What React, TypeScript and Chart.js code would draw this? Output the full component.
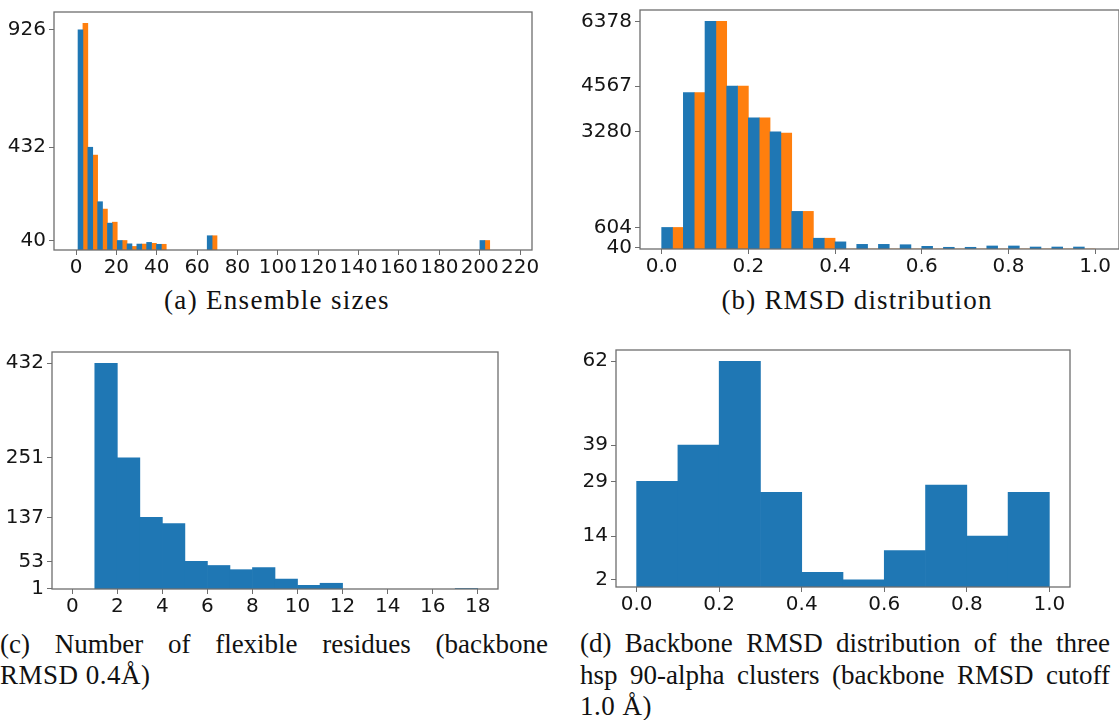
import React, { useEffect, useRef } from 'react';
import { Chart, registerables } from 'chart.js';
Chart.register(...registerables);

// ---------- (a) Ensemble sizes ----------
const aBinLeft = [1, 5.86, 10.71, 15.57, 20.43, 25.29, 30.14, 35.0, 39.86, 65.0, 200.1];
const aBinWidth = 4.857;
const aBlue = [926, 432, 203, 113, 40, 26, 25, 32, 24, 60, 40];
const aOrange = [953, 399, 172, 117, 40, 15, 25, 28, 24, 60, 40];
const aXTicks = [0, 20, 40, 60, 80, 100, 120, 140, 160, 180, 200, 220];
const aYTicks = [40, 432, 926];

// ---------- (b) RMSD distribution ----------
const bBinLeft = [0.0, 0.05, 0.1, 0.15, 0.2, 0.25, 0.3, 0.35, 0.4, 0.45, 0.5, 0.55, 0.6, 0.65, 0.7, 0.75, 0.8, 0.85, 0.9, 0.95];
const bBinWidth = 0.05;
const bBlue = [604, 4380, 6378, 4567, 3677, 3280, 1054, 302, 200, 130, 130, 120, 75, 48, 48, 85, 85, 56, 56, 56];
const bOrange = [604, 4380, 6378, 4567, 3677, 3250, 1054, 302, 0, 0, 0, 0, 0, 0, 0, 0, 0, 0, 0, 0];
const bXTicks = [0, 0.2, 0.4, 0.6, 0.8, 1.0];
const bYTicks = [40, 604, 3280, 4567, 6378];

// ---------- (c) Number of flexible residues ----------
const cBinLeft = [1, 2, 3, 4, 5, 6, 7, 8, 9, 10, 11, 17];
const cBinWidth = 1;
const cCounts = [432, 251, 137, 125, 53, 45, 37, 41, 19, 7, 11, 1];
const cXTicks = [0, 2, 4, 6, 8, 10, 12, 14, 16, 18];
const cYTicks = [1, 53, 137, 251, 432];

// ---------- (d) Backbone RMSD distribution ----------
const dBinLeft = [0.0, 0.1, 0.2, 0.3, 0.4, 0.5, 0.6, 0.7, 0.8, 0.9];
const dBinWidth = 0.1;
const dCounts = [29, 39, 62, 26, 4, 2, 10, 28, 14, 26];
const dXTicks = [0, 0.2, 0.4, 0.6, 0.8, 1.0];
const dYTicks = [2, 14, 29, 39, 62];

const BLUE = '#1f77b4';
const ORANGE = '#ff7f0e';
const AXIS = '#6e6e6e';
const LABEL = '#151515';

const framePlugin = {
  id: 'frame',
  afterDatasetsDraw(chart: any) {
    const { ctx, chartArea: a } = chart;
    ctx.save();
    ctx.strokeStyle = AXIS;
    ctx.lineWidth = 1.3;
    ctx.strokeRect(a.left, a.top, a.right - a.left, a.bottom - a.top);
    ctx.restore();
  },
};

function toPoints(left: number[], width: number, vals: number[]) {
  return left.map((l, i) => ({ x: l + width / 2, y: vals[i] }));
}

type Spec = {
  datasets: { data: { x: number; y: number }[]; color: string }[];
  xMin: number; xMax: number; yMax: number;
  xTicks: number[]; yTicks: number[];
  xDecimals: number;
  fontSize: number;
  padTop: number; padRight: number;
  yAxisW: number; xAxisH: number;
};

function makeConfig(s: Spec): any {
  const font = { family: "'DejaVu Sans'", size: s.fontSize };
  return {
    type: 'bar',
    data: {
      datasets: s.datasets.map((d) => ({
        data: d.data,
        backgroundColor: d.color,
        borderWidth: 0,
        categoryPercentage: 1,
        barPercentage: 1,
      })),
    },
    options: {
      animation: false,
      responsive: false,
      events: [],
      layout: { padding: { top: s.padTop, right: s.padRight, left: 0, bottom: 0 } },
      plugins: { legend: { display: false }, tooltip: { enabled: false }, title: { display: false } },
      scales: {
        x: {
          type: 'linear',
          min: s.xMin,
          max: s.xMax,
          offset: false,
          border: { display: false },
          grid: { display: true, offset: false, drawOnChartArea: false, drawTicks: true, tickLength: 5, color: AXIS, lineWidth: 1 },
          ticks: {
            font, color: LABEL, padding: 1, maxRotation: 0, autoSkip: false,
            callback: (v: number) => v.toFixed(s.xDecimals),
          },
          afterBuildTicks: (sc: any) => { sc.ticks = s.xTicks.map((v) => ({ value: v })); },
          afterFit: (sc: any) => { sc.height = s.xAxisH; sc.paddingLeft = 0; sc.paddingRight = 0; },
        },
        y: {
          type: 'linear',
          min: 0,
          max: s.yMax,
          border: { display: false },
          grid: { display: true, drawOnChartArea: false, drawTicks: true, tickLength: 5, color: AXIS, lineWidth: 1 },
          ticks: { font, color: LABEL, padding: 3, autoSkip: false, callback: (v: number) => String(v) },
          afterBuildTicks: (sc: any) => { sc.ticks = s.yTicks.map((v) => ({ value: v })); },
          afterFit: (sc: any) => { sc.width = s.yAxisW; sc.paddingTop = 0; sc.paddingBottom = 0; },
        },
      },
    },
    plugins: [framePlugin],
  };
}

function ChartBox({ spec, left, top, width, height }: { spec: Spec; left: number; top: number; width: number; height: number }) {
  const ref = useRef<HTMLCanvasElement | null>(null);
  useEffect(() => {
    const chart = new Chart(ref.current as HTMLCanvasElement, makeConfig(spec));
    return () => chart.destroy();
  }, []);
  return (
    <div style={{ position: 'absolute', left, top, width, height }}>
      <canvas ref={ref} width={width} height={height} style={{ width, height, display: 'block' }} />
    </div>
  );
}

const capFont: React.CSSProperties = {
  fontFamily: "'Liberation Serif', serif",
  fontSize: 27,
  lineHeight: '31px',
  color: '#111',
};

function Line({ text, left, top, width, justify, center, spacing }: { text: string; left: number; top: number; width: number; justify?: boolean; center?: boolean; spacing?: number }) {
  return (
    <div
      style={{
        ...capFont,
        position: 'absolute',
        left,
        top,
        width,
        letterSpacing: `${spacing ?? 0}px`,
        textAlign: justify ? 'justify' : center ? 'center' : 'left',
        textAlignLast: justify ? 'justify' : center ? 'center' : 'left',
        whiteSpace: justify ? 'normal' : 'nowrap',
      } as React.CSSProperties}
    >
      {text}
    </div>
  );
}

export default function App() {
  const specA: Spec = {
    datasets: [
      { data: toPoints(aBinLeft, aBinWidth, aBlue), color: BLUE },
      { data: toPoints(aBinLeft, aBinWidth, aOrange), color: ORANGE },
    ],
    xMin: -10.9, xMax: 225.9, yMax: Math.max(...aBlue, ...aOrange) * 1.05,
    xTicks: aXTicks, yTicks: aYTicks, xDecimals: 0, fontSize: 20,
    padTop: 12, padRight: 20, yAxisW: 54, xAxisH: 30,
  };
  const specB: Spec = {
    datasets: [
      { data: toPoints(bBinLeft, bBinWidth, bBlue), color: BLUE },
      { data: toPoints(bBinLeft, bBinWidth, bOrange), color: ORANGE },
    ],
    xMin: -0.05, xMax: 1.055, yMax: Math.max(...bBlue, ...bOrange) * 1.05,
    xTicks: bXTicks, yTicks: bYTicks, xDecimals: 1, fontSize: 20,
    padTop: 10, padRight: 0, yAxisW: 60, xAxisH: 30,
  };
  const specC: Spec = {
    datasets: [{ data: toPoints(cBinLeft, cBinWidth, cCounts), color: BLUE }],
    xMin: -0.9, xMax: 18.9, yMax: Math.max(...cCounts) * 1.05,
    xTicks: cXTicks, yTicks: cYTicks, xDecimals: 0, fontSize: 20,
    padTop: 12, padRight: 20, yAxisW: 52, xAxisH: 30,
  };
  const specD: Spec = {
    datasets: [{ data: toPoints(dBinLeft, dBinWidth, dCounts), color: BLUE }],
    xMin: -0.05, xMax: 1.05, yMax: Math.max(...dCounts) * 1.05,
    xTicks: dXTicks, yTicks: dYTicks, xDecimals: 1, fontSize: 20,
    padTop: 10, padRight: 20, yAxisW: 46, xAxisH: 30,
  };

  return (
    <div style={{ position: 'absolute', left: 0, top: 0, width: 1119, height: 720, background: '#fff', overflow: 'hidden' }}>
      <ChartBox spec={specA} left={0} top={0} width={552} height={280} />
      <ChartBox spec={specB} left={580} top={0} width={539} height={279} />
      <ChartBox spec={specC} left={0} top={340} width={518} height={279} />
      <ChartBox spec={specD} left={570} top={340} width={520} height={277} />

      <Line text="(a) Ensemble sizes" left={77} top={285} width={400} center spacing={1.3} />
      <Line text="(b) RMSD distribution" left={657} top={285} width={400} center spacing={1.2} />

      <Line text="(c) Number of flexible residues (backbone" left={0} top={629} width={548} justify />
      <Line text="RMSD 0.4Å)" left={0} top={660} width={548} spacing={0.5} />

      <Line text="(d) Backbone RMSD distribution of the three" left={580} top={628} width={530} justify />
      <Line text="hsp 90-alpha clusters (backbone RMSD cutoff" left={580} top={660} width={530} justify />
      <Line text="1.0 Å)" left={580} top={691} width={530} spacing={0.5} />
    </div>
  );
}
